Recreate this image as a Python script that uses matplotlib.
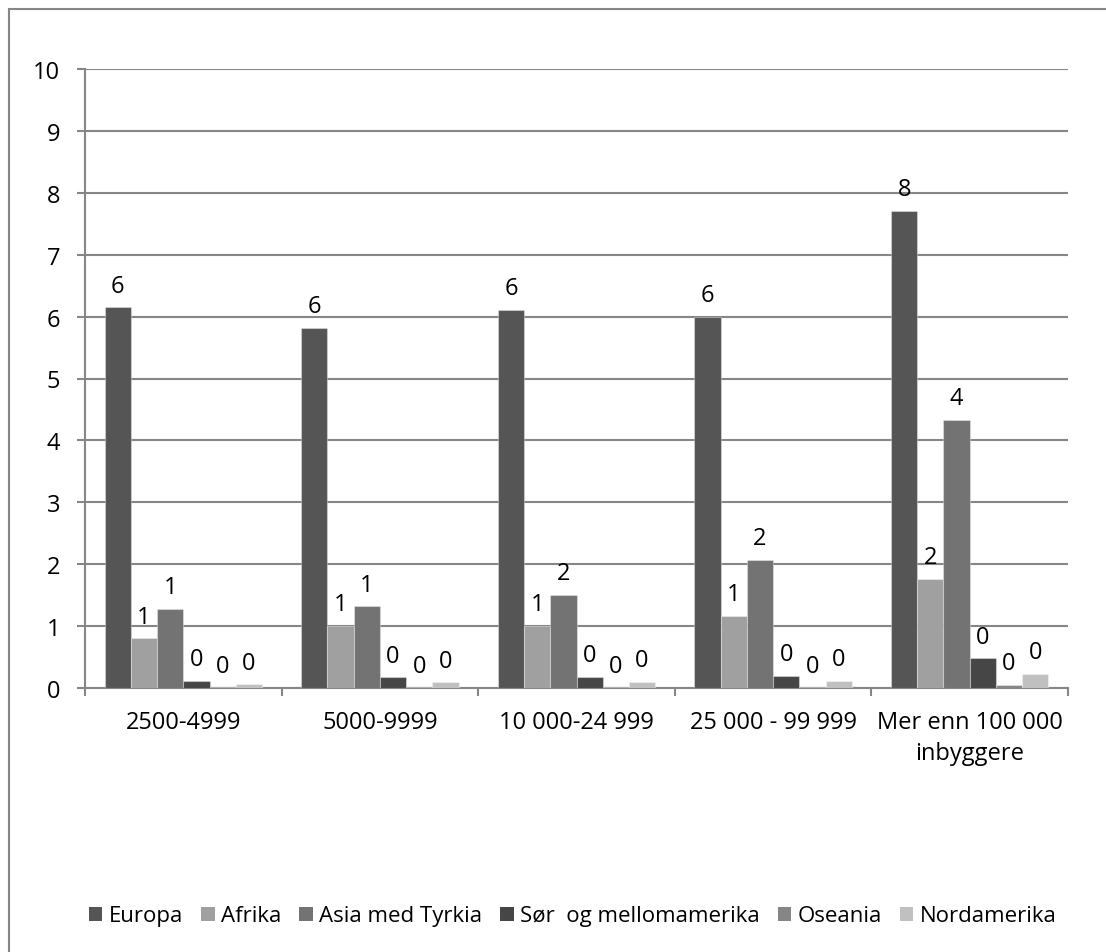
import matplotlib
matplotlib.use("Agg")
import matplotlib.pyplot as plt
from matplotlib.patches import Rectangle, Patch
import numpy as np

categories = ["2500-4999", "5000-9999", "10 000-24 999", "25 000 - 99 999",
              "Mer enn 100 000\ninbyggere"]
series_names = ["Europa", "Afrika", "Asia med Tyrkia", "Sør  og mellomamerika",
                "Oseania", "Nordamerika"]
europa = [6.15, 5.82, 6.11, 6.00, 7.71]
afrika = [0.80, 1.00, 1.00, 1.16, 1.76]
asia = [1.28, 1.32, 1.50, 2.07, 4.33]
sor = [0.12, 0.17, 0.18, 0.20, 0.48]
oseania = [0.01, 0.01, 0.01, 0.01, 0.05]
nordamerika = [0.06, 0.09, 0.10, 0.11, 0.23]
series_values = [europa, afrika, asia, sor, oseania, nordamerika]
colors = ["#555555", "#a0a0a0", "#737373", "#464646", "#868686", "#c0c0c0"]
yticks = list(range(0, 11))

plt.rcParams['font.family'] = ['Open Sans', 'DejaVu Sans']
FS = 17
GRID = "#868686"

W, H = 1106, 953
fig = plt.figure(figsize=(W / 100, H / 100), dpi=100)
ax = fig.add_axes([85 / W, 1 - 689 / H, (1068 - 85) / W, (689 - 70) / H])

n = len(series_names)
group_w = 0.8
bw = group_w / n
x = np.arange(len(categories))
for i, (name, vals, c) in enumerate(zip(series_names, series_values, colors)):
    pos = x - group_w / 2 + bw * (i + 0.5)
    ax.bar(pos, vals, width=bw, color=c, edgecolor=(1, 1, 1, 0.35),
           linewidth=0.8, zorder=3, label=name)
    for xp, v in zip(pos, vals):
        ax.annotate(f"{int(v + 0.5)}", xy=(xp, v), xytext=(0, 7),
                    textcoords="offset points", ha="center", va="bottom",
                    fontsize=FS, color="black", zorder=4)

ax.set_xlim(-0.5, len(categories) - 0.5)
ax.set_ylim(0, 10)
ax.set_yticks(yticks)
ax.set_yticklabels([str(t) for t in yticks], fontsize=FS)
ax.yaxis.grid(True, color=GRID, linewidth=1.5, zorder=0)
ax.set_axisbelow(True)
for s in ["top", "right"]:
    ax.spines[s].set_visible(False)
for s in ["left", "bottom"]:
    ax.spines[s].set_color(GRID)
    ax.spines[s].set_linewidth(1.5)
ax.tick_params(axis="y", length=6, width=1.5, color=GRID, pad=12)

# category labels at centers, ticks at boundaries
ax.set_xticks(x)
ax.set_xticklabels(categories, fontsize=FS, linespacing=1.4)
ax.tick_params(axis="x", length=0, pad=16)
ax.set_xticks(np.arange(len(categories) + 1) - 0.5, minor=True)
ax.tick_params(axis="x", which="minor", length=6, width=1.5, color=GRID)

# outer chart border (left and top visible)
fig.add_artist(Rectangle((9 / W, -0.05), 1.1, 1 - 10 / H + 0.05,
                         transform=fig.transFigure, fill=False,
                         edgecolor=GRID, linewidth=1.5))

handles = [Patch(facecolor=c, edgecolor="none") for c in colors]
fig.legend(handles, series_names, loc="center", bbox_to_anchor=(573 / W, 1 - 917 / H),
           ncol=n, frameon=False, fontsize=16, handlelength=0.6, handleheight=0.6,
           handletextpad=0.3, columnspacing=0.8, borderaxespad=0)

fig.savefig("out.png", dpi=100)
